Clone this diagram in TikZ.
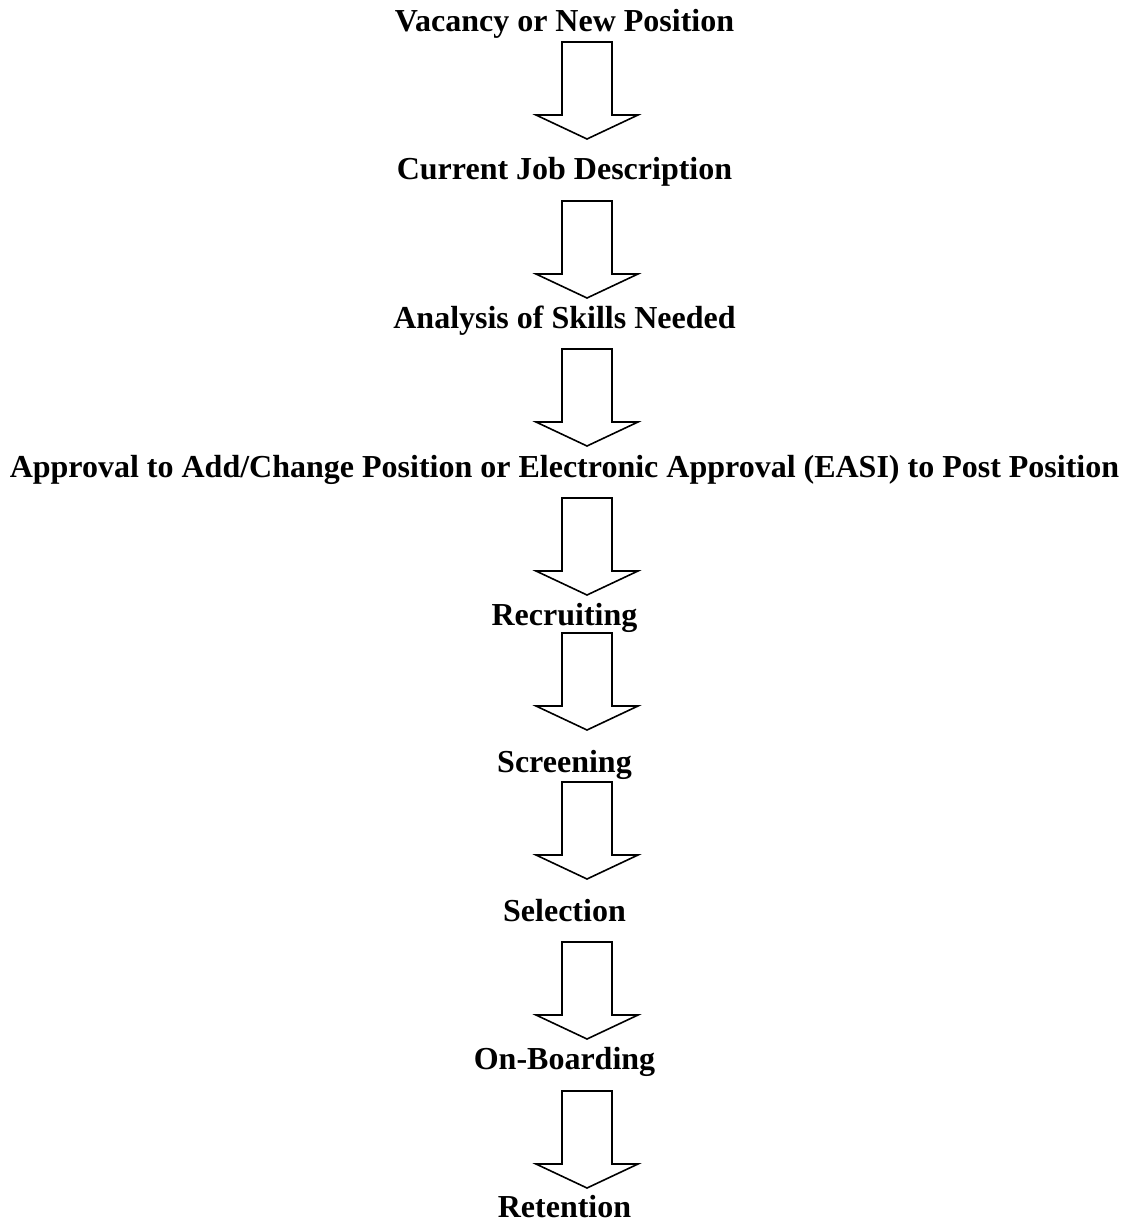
\documentclass[tikz,border=0pt]{standalone}
\usepackage{fontspec}
\setmainfont{Liberation Serif}
\usepackage{tikz}
\usetikzlibrary{calc}

\begin{document}
\begin{tikzpicture}[x=0.75pt, y=-0.75pt, line width=1.2pt, line join=miter,
        stage/.style={anchor=base, inner sep=0pt, font=\fontsize{24}{29}\selectfont\bfseries},
        blockarrow/.style={to path={
            ($(\tikztostart)+(-25,0)$) -- ($(\tikztotarget)+(-25,-24)$)
            -- ($(\tikztotarget)+(-51,-24)$) -- (\tikztotarget)
            -- ($(\tikztotarget)+(51,-24)$) -- ($(\tikztotarget)+(25,-24)$)
            -- ($(\tikztostart)+(25,0)$) -- cycle}}]
        \useasboundingbox (0,0) rectangle (1129,1221);
        % stages
        \node[stage] (vacancy) at (564.5, 31) {Vacancy or New Position};
        \node[stage] (jobdesc) at (564.5, 179) {Current Job Description};
        \node[stage] (skills) at (564.5, 328) {Analysis of Skills Needed};
        \node[stage] (approval) at (564.5, 477) {Approval to Add/Change Position or Electronic Approval (EASI) to Post Position};
        \node[stage] (recruiting) at (564.5, 625) {Recruiting};
        \node[stage] (screening) at (564.5, 772) {Screening};
        \node[stage] (selection) at (564.5, 921) {Selection};
        \node[stage] (onboarding) at (564.5, 1069) {On-Boarding};
        \node[stage] (retention) at (564.5, 1217) {Retention};
        % arrow ends
		\node (1) at (587, 42) {};
		\node (2) at (587, 139) {};
		\node (3) at (587, 201) {};
		\node (4) at (587, 298) {};
		\node (5) at (587, 349) {};
		\node (6) at (587, 446) {};
		\node (7) at (587, 498) {};
		\node (8) at (587, 595) {};
		\node (9) at (587, 633) {};
		\node (10) at (587, 730) {};
		\node (11) at (587, 782) {};
		\node (12) at (587, 879) {};
		\node (13) at (587, 942) {};
		\node (14) at (587, 1039) {};
		\node (15) at (587, 1091) {};
		\node (16) at (587, 1188) {};
		\draw[blockarrow] (1.center) to (2.center);
		\draw[blockarrow] (3.center) to (4.center);
		\draw[blockarrow] (5.center) to (6.center);
		\draw[blockarrow] (7.center) to (8.center);
		\draw[blockarrow] (9.center) to (10.center);
		\draw[blockarrow] (11.center) to (12.center);
		\draw[blockarrow] (13.center) to (14.center);
		\draw[blockarrow] (15.center) to (16.center);
    \end{tikzpicture}
\end{document}
